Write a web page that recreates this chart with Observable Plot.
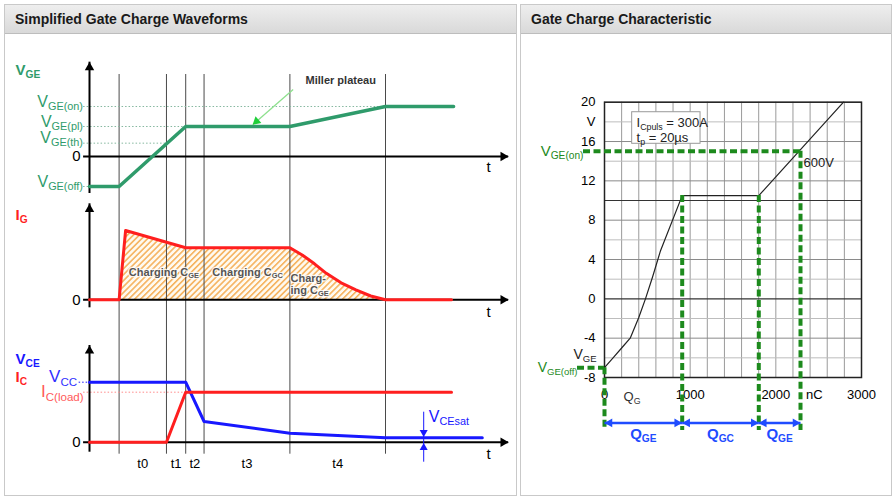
<!DOCTYPE html>
<html><head><meta charset="utf-8">
<script src="https://cdn.jsdelivr.net/npm/d3@7"></script>
<script src="https://cdn.jsdelivr.net/npm/@observablehq/plot@0.6"></script>
<style>
body{margin:0;background:#fff;}
#root{position:relative;width:896px;height:499px;overflow:hidden;background:#fff;font-family:"Liberation Sans",Arial,sans-serif;}
.box{position:absolute;border:1px solid #c9c9c9;box-sizing:border-box;}
.hdr{position:absolute;box-sizing:border-box;background:linear-gradient(#eeeeee,#d9d9d9);border-bottom:1px solid #bdbdbd;font-weight:bold;font-size:14px;color:#1a1a1a;padding-left:10px;line-height:29px;}
</style></head>
<body><div id="root">
<div class="box" style="left:4px;top:4px;width:513px;height:492px"></div>
<div class="hdr" style="left:5px;top:5px;width:511px;height:29px">Simplified Gate Charge Waveforms</div>
<div class="box" style="left:520px;top:4px;width:372px;height:492px"></div>
<div class="hdr" style="left:521px;top:5px;width:370px;height:29px">Gate Charge Characteristic</div>
</div>
<script>
// ---------- Left: simplified waveforms (schematic time units) ----------
const tEvents = [1.0, 2.6, 3.25, 3.87, 6.77, 10.0];
const tNames = ["t0", "t1", "t2", "t3", "t4"];

const vgeT = [0, 1.0, 3.25, 6.77, 10.0, 12.3];
const vgeV = [-9, -9, 9, 9, 15, 15];
const vgeLevelNames = ["GE(on)", "GE(pl)", "GE(th)", "GE(off)"];
const vgeLevelValues = [15, 9, 4, -9];
const vgeLevelEnds = [10.0, 3.25, 2.6, 0];

const igT = [0, 1.0, 1.22, 3.25, 6.77, 7.2, 7.6, 8.0, 8.5, 9.0, 9.5, 10.0, 12.23];
const igV = [0, 0, 6.93, 5.2, 5.2, 4.45, 3.6, 2.65, 1.7, 1.0, 0.38, 0, 0];
const chargeLabels = ["Charging C_{GE}", "Charging C_{GC}", "Charg-", "ing C_{GE}"];

const vceT = [0, 3.25, 3.87, 6.77, 10.0, 13.27];
const vceV = [600, 600, 207, 90, 44, 44];
const icT = [0, 2.6, 3.25, 12.23];
const icV = [0, 0, 500, 500];
const vcc = 600, icLoad = 500;

// ---------- Right: gate charge characteristic ----------
const qgQ = [0, 100, 200, 300, 400, 478, 560, 654, 907, 1801, 2790];
const qgV = [-7, -6.0, -5.0, -4.0, -1.9, 0, 2.2, 4.9, 10.5, 10.5, 20];
const vgeOn = 15, vgeOff = -7;
const qBounds = [0, 907, 1801, 2288];
const qBoundV = [-7, 10.5, 10.5, 15];
const qNames = ["Q_{GE}", "Q_{GC}", "Q_{GE}"];
const yTicks = [-8, -4, 0, 4, 8, 12, 16, 18, 20];
const xTicks = [0, 1000, 2000, 2450, 3000];
const legendLines = ["I_{Cpuls} = 300A", "t_{p} = 20µs"];
const curveLabel = "600V";

// ---------- helpers ----------
const root = document.getElementById("root");
const ns = "http://www.w3.org/2000/svg";
const FONT = "'Liberation Sans', Arial, Helvetica, sans-serif";
const green = "#2f9b6b", red = "#ff1f1f", blue = "#1818ff", dkgreen = "#1d8a1d", qblue = "#1f4cff";

function fixSubs(svg) {
  svg.querySelectorAll("text").forEach(el => {
    const targets = el.children.length ? Array.from(el.querySelectorAll("tspan")) : [el];
    targets.forEach(node => {
      const s = node.textContent;
      if (!s.includes("_{")) return;
      node.textContent = "";
      const re = /_\{([^}]*)\}/g;
      let last = 0, m, afterSub = false;
      const add = (txt, sub) => {
        if (!txt) return;
        const ts = document.createElementNS(ns, "tspan");
        ts.textContent = txt;
        if (sub) { ts.setAttribute("font-size", "0.68em"); ts.setAttribute("dy", "0.3em"); }
        else if (afterSub) ts.setAttribute("dy", "-0.204em");
        node.appendChild(ts);
        afterSub = sub;
      };
      while ((m = re.exec(s))) { add(s.slice(last, m.index), false); add(m[1], true); last = re.lastIndex; }
      add(s.slice(last), false);
    });
  });
}
function place(svg, left, top) {
  svg.style.position = "absolute";
  svg.style.left = left + "px";
  svg.style.top = top + "px";
  root.appendChild(svg);
  fixSubs(svg);
  return svg;
}
const baseStyle = {background: "transparent", overflow: "visible", fontFamily: FONT, color: "black"};
const xDomL = [-2.838, 14.493];
const tMin = -0.2, tMax = 14.16;
const mid = (a, b) => (a + b) / 2;
const tLabelData = tNames.map((n, i) => ({n, t: mid(tEvents[i], tEvents[i + 1])}));
const zip = (a, b) => a.map((x, i) => ({x, y: b[i]}));
const head = (x, y, rot, extra = {}) => Plot.dot([{x, y}], {x: "x", y: "y", symbol: "triangle", r: 3.5, rotate: rot, fill: "black", stroke: "none", ...extra});

// ---------- top: VGE ----------
const lvlIdx = d3.range(vgeLevelValues.length);
place(Plot.plot({
  width: 513, height: 163, margin: 0,
  x: {domain: xDomL, axis: null}, y: {domain: [-12, 36.9], axis: null},
  style: baseStyle,
  marks: [
    Plot.ruleX(tEvents, {y1: 24.6, y2: -12, stroke: "#4a4a4a", strokeWidth: 1}),
    Plot.ruleY(lvlIdx, {y: i => vgeLevelValues[i], x1: tMin, x2: i => vgeLevelEnds[i], stroke: "#86b8a0", strokeWidth: 1, strokeDasharray: "1.5,2"}),
    Plot.ruleX([0], {y1: -11.1, y2: 28.3, stroke: "black", strokeWidth: 2}),
    Plot.ruleY([0], {x1: tMin, x2: tMax, stroke: "black", strokeWidth: 2}),
    head(0, 28.3, 0, {dy: 5.4}),
    head(tMax, 0, 90, {dx: -5.4}),
    Plot.line(zip(vgeT, vgeV), {x: "x", y: "y", stroke: green, strokeWidth: 3.5}),
    Plot.link([{x1: 6.88, y1: 20.1, x2: 5.52, y2: 9.6}], {x1: "x1", y1: "y1", x2: "x2", y2: "y2", stroke: "#8ee08e", strokeWidth: 1.3}),
    Plot.dot([{x: 5.52, y: 9.6}], {x: "x", y: "y", symbol: "triangle", r: 3.3, rotate: 229, fill: "#1fcf3a", stroke: "none", dx: 3.6, dy: -3.2}),
    Plot.text(["Miller plateau"], {x: 7.3, y: 22.8, text: d => d, textAnchor: "start", fontSize: 11, fontWeight: "bold", fill: "#333"}),
    Plot.text(lvlIdx, {x: -0.22, y: i => vgeLevelValues[i], text: i => "V_{" + vgeLevelNames[i] + "}", textAnchor: "end", lineAnchor: "bottom", fontSize: 16, fill: green}),
    Plot.text(["V_{GE}"], {x: -2.5, y: 25.8, text: d => d, textAnchor: "start", fontSize: 15, fontWeight: "bold", fill: green}),
    Plot.text(["0"], {x: -0.3, y: 0, text: d => d, textAnchor: "end", fontSize: 15}),
    Plot.text(["t"], {x: 13.48, y: -3.3, text: d => d, fontSize: 15})
  ]
}), 5, 33);

// ---------- middle: IG ----------
const igData = zip(igT, igV);
const mid1 = Plot.plot({
  width: 513, height: 134, margin: 0,
  x: {domain: xDomL, axis: null}, y: {domain: [-3.07, 10.33], axis: null},
  style: baseStyle,
  marks: [
    Plot.areaY(igData.filter(d => d.x >= tEvents[0] && d.x <= tEvents[5]), {x: "x", y: "y", fill: "url(#hatchIG)"}),
    Plot.ruleX(tEvents, {stroke: "#4a4a4a", strokeWidth: 1}),
    Plot.ruleX([0], {y1: -0.8, y2: 9.6, stroke: "black", strokeWidth: 2}),
    Plot.ruleY([0], {x1: tMin, x2: tMax, stroke: "black", strokeWidth: 2}),
    head(0, 9.6, 0, {dy: 5.4}),
    head(tMax, 0, 90, {dx: -5.4}),
    Plot.line(igData, {x: "x", y: "y", stroke: red, strokeWidth: 3}),
    Plot.text([0, 1], {x: i => [1.33, 4.15][i], y: 2.76, text: i => chargeLabels[i], textAnchor: "start", fontSize: 11, fontWeight: "bold", fill: "#555", stroke: "white", strokeWidth: 2.5, strokeOpacity: 0.8}),
    Plot.text([2, 3], {x: 6.79, y: i => [2.1, 0.93][i - 2], text: i => chargeLabels[i], textAnchor: "start", fontSize: 11, fontWeight: "bold", fill: "#555", stroke: "white", strokeWidth: 2.5, strokeOpacity: 0.8}),
    Plot.text(["I_{G}"], {x: -2.5, y: 8.43, text: d => d, textAnchor: "start", fontSize: 15, fontWeight: "bold", fill: red}),
    Plot.text(["0"], {x: -0.3, y: 0, text: d => d, textAnchor: "end", fontSize: 15}),
    Plot.text(["t"], {x: 13.48, y: -1.24, text: d => d, fontSize: 15})
  ]
});
const defs = document.createElementNS(ns, "defs");
defs.innerHTML = '<pattern id="hatchIG" width="4.2" height="4.2" patternUnits="userSpaceOnUse" patternTransform="rotate(45)"><rect width="4.2" height="4.2" fill="#fffaf0"/><line x1="0.8" y1="0" x2="0.8" y2="4.2" stroke="#f4a94a" stroke-width="1.4"/></pattern>';
mid1.insertBefore(defs, mid1.firstChild);
place(mid1, 5, 196);

// ---------- bottom: VCE / IC ----------
place(Plot.plot({
  width: 513, height: 165, margin: 0,
  x: {domain: xDomL, axis: null}, y: {domain: [-533, 1117], axis: null},
  style: baseStyle,
  marks: [
    Plot.ruleX(tEvents, {y1: 1117, y2: -120, stroke: "#4a4a4a", strokeWidth: 1}),
    Plot.ruleY([vcc], {x1: -0.35, x2: 0, stroke: blue, strokeWidth: 1, strokeDasharray: "1.5,2"}),
    Plot.ruleY([icLoad], {x1: tMin, x2: tEvents[2], stroke: "#ff8c8c", strokeWidth: 1, strokeDasharray: "1.5,2"}),
    Plot.ruleX([0], {y1: -100, y2: 967, stroke: "black", strokeWidth: 2}),
    Plot.ruleY([0], {x1: tMin, x2: tMax, stroke: "black", strokeWidth: 2}),
    head(0, 967, 0, {dy: 5.4}),
    head(tMax, 0, 90, {dx: -5.4}),
    Plot.line(zip(vceT, vceV), {x: "x", y: "y", stroke: blue, strokeWidth: 3}),
    Plot.line(zip(icT, icV), {x: "x", y: "y", stroke: red, strokeWidth: 3}),
    Plot.ruleX([11.29], {y1: 300, y2: -200, stroke: blue, strokeWidth: 1}),
    head(11.29, vceV[5], 180, {dy: -5.4, fill: blue, r: 3}),
    head(11.29, 0, 0, {dy: 5.4, fill: blue, r: 3}),
    Plot.text(["V_{CEsat}"], {x: 11.46, y: 257, text: d => d, textAnchor: "start", fontSize: 16, fill: blue}),
    Plot.text(["V_{CE}"], {x: -2.5, y: 834, text: d => d, textAnchor: "start", fontSize: 15, fontWeight: "bold", fill: blue}),
    Plot.text(["I_{C}"], {x: -2.5, y: 650, text: d => d, textAnchor: "start", fontSize: 15, fontWeight: "bold", fill: red}),
    Plot.text(["V_{CC}"], {x: -0.42, y: vcc, text: d => d, textAnchor: "end", lineAnchor: "bottom", fontSize: 17, fill: "#3030ff"}),
    Plot.text(["I_{C(load)}"], {x: -0.2, y: icLoad, dy: 5, text: d => d, textAnchor: "end", lineAnchor: "bottom", fontSize: 17, fill: "#ff5a5a"}),
    Plot.text(["0"], {x: -0.3, y: 0, text: d => d, textAnchor: "end", fontSize: 15}),
    Plot.text(["t"], {x: 13.48, y: -116, text: d => d, fontSize: 15}),
    Plot.text(tLabelData, {x: "t", y: -216, text: "n", fontSize: 13})
  ]
}), 5, 330);

// ---------- right chart ----------
const qg = zip(qgQ, qgV);
const qSegs = d3.range(3).map(i => ({a: qBounds[i], b: qBounds[i + 1], n: qNames[i]}));
const yArrow = -12.62;
place(Plot.plot({
  width: 370, height: 462,
  marginLeft: 82, marginRight: 31, marginTop: 68.7, marginBottom: 118,
  x: {domain: [0, 3000], label: null}, y: {domain: [-8, 20], label: null},
  style: {...baseStyle, fontSize: "13px"},
  marks: [
    Plot.ruleX(d3.range(0, 3001, 200), {y1: -8, y2: 20, stroke: "#9a9a9a", strokeWidth: 1}),
    Plot.ruleY(d3.range(-8, 21, 2).filter(d => d % 4 !== 0 && d !== 10), {x1: 0, x2: 3000, stroke: "#bdbdbd", strokeWidth: 1}),
    Plot.ruleY(d3.range(-8, 21, 4).filter(d => d !== 0), {x1: 0, x2: 3000, stroke: "#8a8a8a", strokeWidth: 1}),
    Plot.ruleY([0, 10], {x1: 0, x2: 3000, stroke: "#333", strokeWidth: 1.2}),
    Plot.frame({stroke: "#222", strokeWidth: 1.5}),
    Plot.axisX({ticks: xTicks, tickFormat: d => d === 2450 ? "nC" : String(d), tickSize: 0, tickPadding: 12, label: null}),
    Plot.axisY({ticks: yTicks, tickFormat: d => d === 18 ? "V" : String(d), tickSize: 0, tickPadding: 9, label: null}),
    Plot.rect([0], {x1: 323, x2: 1121, y1: 15.77, y2: 18.98, fill: "white", stroke: "#999", strokeWidth: 1}),
    Plot.text(legendLines, {x: 374, y: (d, i) => [17.9, 16.35][i], text: d => d, textAnchor: "start", fontSize: 13, fill: "#222"}),
    Plot.line(qg, {x: "x", y: "y", stroke: "#222", strokeWidth: 1.2}),
    Plot.text([curveLabel], {x: 2323, y: 13.8, text: d => d, textAnchor: "start", fontSize: 13, fill: "#222"}),
    Plot.text(["Q_{G}"], {x: 222, y: -10.0, text: d => d, textAnchor: "start", fontSize: 13, fill: "#333"}),
    Plot.text(["V_{GE}"], {x: -362, y: -5.67, text: d => d, textAnchor: "start", fontSize: 14, fill: "#222"}),
    Plot.ruleY([vgeOn], {x1: -245, x2: qBounds[3], stroke: dkgreen, strokeWidth: 4, strokeDasharray: "7,3.5"}),
    Plot.ruleY([vgeOff], {x1: -315, x2: 0, stroke: dkgreen, strokeWidth: 4, strokeDasharray: "7,3.5"}),
    Plot.ruleX(d3.range(4), {x: i => qBounds[i], y1: i => qBoundV[i], y2: -13.4, stroke: dkgreen, strokeWidth: 4, strokeDasharray: "7,3.5"}),
    Plot.text(["V_{GE(on)}"], {x: -245, y: vgeOn, text: d => d, textAnchor: "end", fontSize: 15, fill: dkgreen}),
    Plot.text(["V_{GE(off)}"], {x: -315, y: vgeOff, text: d => d, textAnchor: "end", fontSize: 14, fill: dkgreen}),
    Plot.link(qSegs, {x1: "a", x2: "b", y1: yArrow, y2: yArrow, stroke: qblue, strokeWidth: 2.5}),
    Plot.dot(qSegs, {x: "a", y: yArrow, symbol: "triangle", r: 3.3, rotate: -90, dx: 5.2, fill: qblue, stroke: "none"}),
    Plot.dot(qSegs, {x: "b", y: yArrow, symbol: "triangle", r: 3.3, rotate: 90, dx: -5.2, fill: qblue, stroke: "none"}),
    Plot.text(qSegs, {x: d => (d.a + d.b) / 2, y: -13.75, text: "n", fontSize: 15, fontWeight: "bold", fill: qblue})
  ]
}), 522, 33);
</script>
</body></html>
